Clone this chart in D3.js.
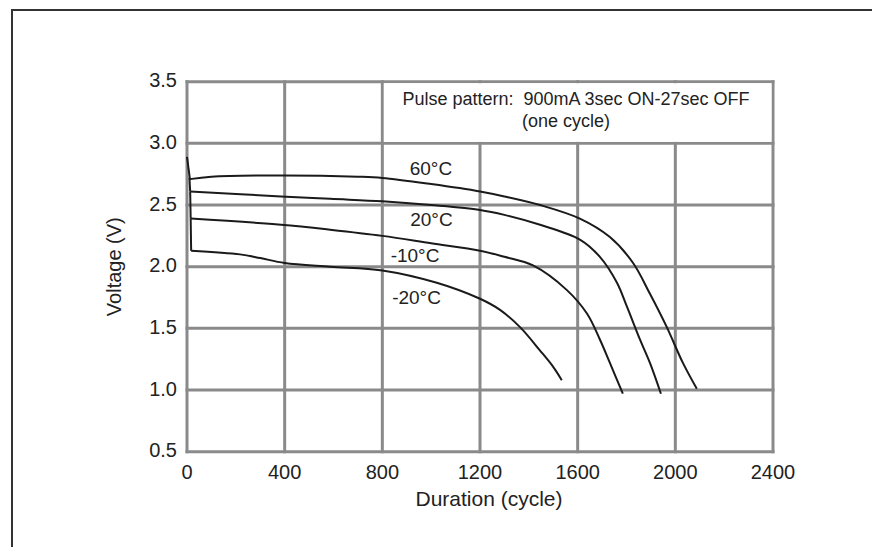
<!DOCTYPE html>
<html lang="en">
<head>
    <meta charset="UTF-8">
    <title>Pulse discharge</title>
    <script src="https://d3js.org/d3.v7.min.js"></script>
    <style>
        body { margin: 0; background: #fff; }
        text { font-family: "Liberation Sans", Arial, sans-serif; fill: #222; }
    </style>
</head>
<body>
    <div id="chart"></div>

    <script>
        // axis ticks
        var cycleTicks = [0, 400, 800, 1200, 1600, 2000, 2400];
        var voltTicks = [0.5, 1.0, 1.5, 2.0, 2.5, 3.0, 3.5];

        // curves, [cycle, voltage]
        // first point is the instant drop at the start of the test
        var curve60 = [[0, 2.89], [12, 2.71], [100, 2.73], [400, 2.74], [700, 2.73], [800, 2.72], [1000, 2.67],
            [1200, 2.61], [1300, 2.57], [1446, 2.50], [1609, 2.39], [1732, 2.24], [1827, 2.03], [1896, 1.78],
            [1965, 1.51], [2031, 1.22], [2088, 1.01]];
        var curve20 = [[10, 2.72], [13, 2.61], [385, 2.57], [586, 2.55], [800, 2.53], [1000, 2.50], [1200, 2.46],
            [1300, 2.42], [1446, 2.34], [1609, 2.22], [1691, 2.08], [1761, 1.87], [1801, 1.68], [1855, 1.41],
            [1896, 1.22], [1941, 0.97]];
        var curveM10 = [[13, 2.61], [15, 2.39], [385, 2.34], [586, 2.30], [800, 2.25], [1000, 2.19], [1200, 2.13],
            [1300, 2.08], [1417, 2.01], [1556, 1.81], [1638, 1.62], [1691, 1.41], [1732, 1.22], [1785, 0.97]];
        var curveM20 = [[15, 2.39], [17, 2.13], [217, 2.10], [300, 2.07], [400, 2.03], [586, 2.00], [800, 1.97],
            [1023, 1.87], [1200, 1.74], [1282, 1.65], [1364, 1.51], [1446, 1.32], [1499, 1.19], [1535, 1.08]];

        var curves = [curve60, curve20, curveM10, curveM20];
        var curveNames = ["60°C", "20°C", "-10°C", "-20°C"];
        var nameSpots = [[999, 2.80], [1001, 2.38], [934, 2.09], [940, 1.75]];

        var noteLines = ["Pulse pattern:  900mA 3sec ON-27sec OFF", "(one cycle)"];

        var W = 872, H = 547;
        var svg = d3.select("#chart").append("svg")
            .attr("width", W)
            .attr("height", H);

        svg.append("rect").attr("width", W).attr("height", H).attr("fill", "#fff");

        // outer frame (runs off the right and bottom edge)
        svg.append("rect")
            .attr("x", 12).attr("y", 10)
            .attr("width", 900).attr("height", 600)
            .attr("fill", "none")
            .attr("stroke", "#333")
            .attr("stroke-width", 2);

        var x = d3.scaleLinear().domain([0, 2400]).range([187, 773]);
        var y = d3.scaleLinear().domain([0.5, 3.5]).range([451.7, 81.7]);

        var grid = svg.append("g")
            .attr("stroke", "#8a8a8a")
            .attr("stroke-width", 3)
            .attr("stroke-linecap", "square");

        grid.selectAll("line.v").data(cycleTicks).enter().append("line")
            .attr("x1", function(d) { return x(d); })
            .attr("x2", function(d) { return x(d); })
            .attr("y1", y(0.5))
            .attr("y2", y(3.5));

        grid.selectAll("line.h").data(voltTicks).enter().append("line")
            .attr("y1", function(d) { return y(d); })
            .attr("y2", function(d) { return y(d); })
            .attr("x1", x(0))
            .attr("x2", x(2400));

        // note box blanks the grid between 800..2400 and 3.0..3.5
        svg.append("rect")
            .attr("x", x(800) + 1.5)
            .attr("y", y(3.5) + 1.5)
            .attr("width", x(2400) - x(800) - 3)
            .attr("height", y(3.0) - y(3.5) - 3)
            .attr("fill", "#fff");

        svg.append("text")
            .attr("x", x(1593)).attr("y", 105)
            .attr("text-anchor", "middle")
            .style("font-size", "18px")
            .attr("xml:space", "preserve")
            .text(noteLines[0]);
        svg.append("text")
            .attr("x", x(1552)).attr("y", 127)
            .attr("text-anchor", "middle")
            .style("font-size", "18px")
            .text(noteLines[1]);

        // tick labels
        svg.selectAll("text.xt").data(cycleTicks).enter().append("text")
            .attr("x", function(d) { return x(d); })
            .attr("y", 479)
            .attr("text-anchor", "middle")
            .style("font-size", "20px")
            .text(function(d) { return d; });

        svg.selectAll("text.yt").data(voltTicks).enter().append("text")
            .attr("x", 177)
            .attr("y", function(d) { return y(d) - 1.5; })
            .attr("dy", "0.35em")
            .attr("text-anchor", "end")
            .style("font-size", "20px")
            .text(function(d) { return d.toFixed(1); });

        // axis titles
        svg.append("text")
            .attr("x", 489).attr("y", 506)
            .attr("text-anchor", "middle")
            .style("font-size", "21px")
            .text("Duration (cycle)");

        svg.append("text")
            .attr("transform", "translate(121," + y(2.0) + ") rotate(-90)")
            .attr("text-anchor", "middle")
            .style("font-size", "20px")
            .text("Voltage (V)");

        // curves: straight initial drop, then a smooth line through the rest
        var drop = d3.line()
            .x(function(d) { return x(d[0]); })
            .y(function(d) { return y(d[1]); });
        var smooth = d3.line()
            .x(function(d) { return x(d[0]); })
            .y(function(d) { return y(d[1]); })
            .curve(d3.curveCatmullRom.alpha(0.5));

        var cg = svg.append("g")
            .attr("fill", "none")
            .attr("stroke", "#1a1a1a")
            .attr("stroke-width", 2)
            .attr("stroke-linejoin", "round");

        curves.forEach(function(c) {
            cg.append("path").attr("d", drop(c.slice(0, 2)));
            cg.append("path").attr("d", smooth(c.slice(1)));
        });

        svg.selectAll("text.name").data(curveNames).enter().append("text")
            .attr("x", function(d, i) { return x(nameSpots[i][0]); })
            .attr("y", function(d, i) { return y(nameSpots[i][1]); })
            .attr("dy", "0.35em")
            .attr("text-anchor", "middle")
            .style("font-size", "19px")
            .text(function(d) { return d; });
    </script>
</body>
</html>
